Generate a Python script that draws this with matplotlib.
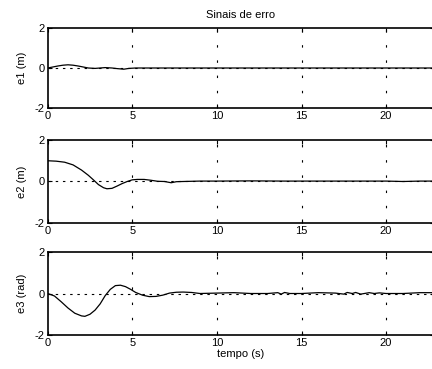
import matplotlib
matplotlib.use("Agg")
import matplotlib.pyplot as plt
import numpy as np

plt.rcParams['font.family'] = ['Liberation Sans', 'DejaVu Sans']
plt.rcParams['axes.unicode_minus'] = False

# time samples (s) and error signals
t1 = [0, 0.3, 0.6, 0.9, 1.2, 1.5, 1.8, 2.1, 2.4, 2.8, 3.1, 3.4, 3.8, 4.1, 4.5, 4.8, 5.2, 6, 8, 10, 12, 15, 18, 20, 22, 25]
e1 = [0, 0.05, 0.1, 0.14, 0.16, 0.14, 0.1, 0.05, 0.0, -0.02, 0.0, 0.02, 0.0, -0.03, -0.06, -0.02, 0.0, 0.0, 0.0, 0.0, 0.0, 0.0, 0.0, 0.0, 0.0, 0.0]

t2 = [0, 0.5, 1.0, 1.5, 2.0, 2.4, 2.7, 3.0, 3.3, 3.5, 3.8, 4.1, 4.4, 4.7, 5.0, 5.3, 5.7, 6.1, 6.5, 6.9, 7.3, 7.6, 8.0, 9, 10, 12, 14, 16, 18, 20, 21, 22, 25]
e2 = [1.0, 0.98, 0.93, 0.8, 0.55, 0.3, 0.08, -0.15, -0.3, -0.35, -0.33, -0.22, -0.1, 0.0, 0.08, 0.1, 0.1, 0.06, 0.01, 0.0, -0.06, -0.01, 0.0, 0.02, 0.02, 0.03, 0.02, 0.02, 0.02, 0.02, 0.0, 0.02, 0.02]

t3 = [0, 0.4, 0.8, 1.2, 1.6, 2.0, 2.2, 2.5, 2.8, 3.1, 3.4, 3.7, 4.0, 4.3, 4.6, 4.9, 5.2, 5.6, 6.0, 6.4, 6.8, 7.2, 7.6, 8.0, 8.5, 9.0, 10, 11, 12, 13, 13.6, 13.8, 14.0, 14.3, 15, 16, 17, 17.5, 17.7, 18.0, 18.2, 18.5, 19.0, 19.3, 19.6, 20, 21, 22, 25]
e3 = [0, -0.12, -0.4, -0.7, -0.95, -1.08, -1.1, -1.0, -0.8, -0.5, -0.1, 0.2, 0.38, 0.4, 0.33, 0.2, 0.05, -0.08, -0.15, -0.14, -0.08, 0.02, 0.06, 0.07, 0.05, 0.0, 0.02, 0.04, 0.0, 0.0, 0.04, -0.03, 0.05, 0.0, 0.0, 0.04, 0.02, -0.03, 0.05, 0.0, 0.05, -0.03, 0.04, 0.0, 0.03, 0.0, 0.0, 0.04, 0.04]

xticks = [0, 5, 10, 15, 20]
yticks = [-2, 0, 2]
ylabels = ['e1 (m)', 'e2 (m)', 'e3 (rad)']
title = 'Sinais de erro'
xlabel = 'tempo (s)'

XMAX = 22.85
fig = plt.figure(figsize=(4.32, 3.69), dpi=100)
left = 47.7 / 432
width = (XMAX * 16.92) / 432
boxes = [(28, 108), (140, 223), (252, 335)]
H = 369.0
series = [(t1, e1), (t2, e2), (t3, e3)]
for i, ((top, bot), (t, e)) in enumerate(zip(boxes, series)):
    ax = fig.add_axes([left, 1 - bot / H, width, (bot - top) / H])
    ax.plot(t, e, color='black', lw=0.9)
    ax.set_xlim(0, XMAX)
    ax.set_ylim(-2, 2)
    ax.set_xticks(xticks)
    ax.set_yticks(yticks)
    ax.tick_params(direction='in', length=3, width=0.8, labelsize=8, top=True, right=True, pad=2)
    for s in ax.spines.values():
        s.set_linewidth(1.2)
    for x in xticks[1:]:
        ax.axvline(x, color='black', lw=0.8, linestyle=(0, (2.2, 11.5)))
    ax.axhline(0, color='black', lw=0.8, linestyle=(0, (2.2, 4.3)))
    ax.set_ylabel(ylabels[i], fontsize=8, labelpad=6)
    if i == 0:
        ax.set_title(title, fontsize=8, pad=7)
    if i == 2:
        ax.set_xlabel(xlabel, fontsize=8, labelpad=1)

fig.savefig('out.png', dpi=100)
